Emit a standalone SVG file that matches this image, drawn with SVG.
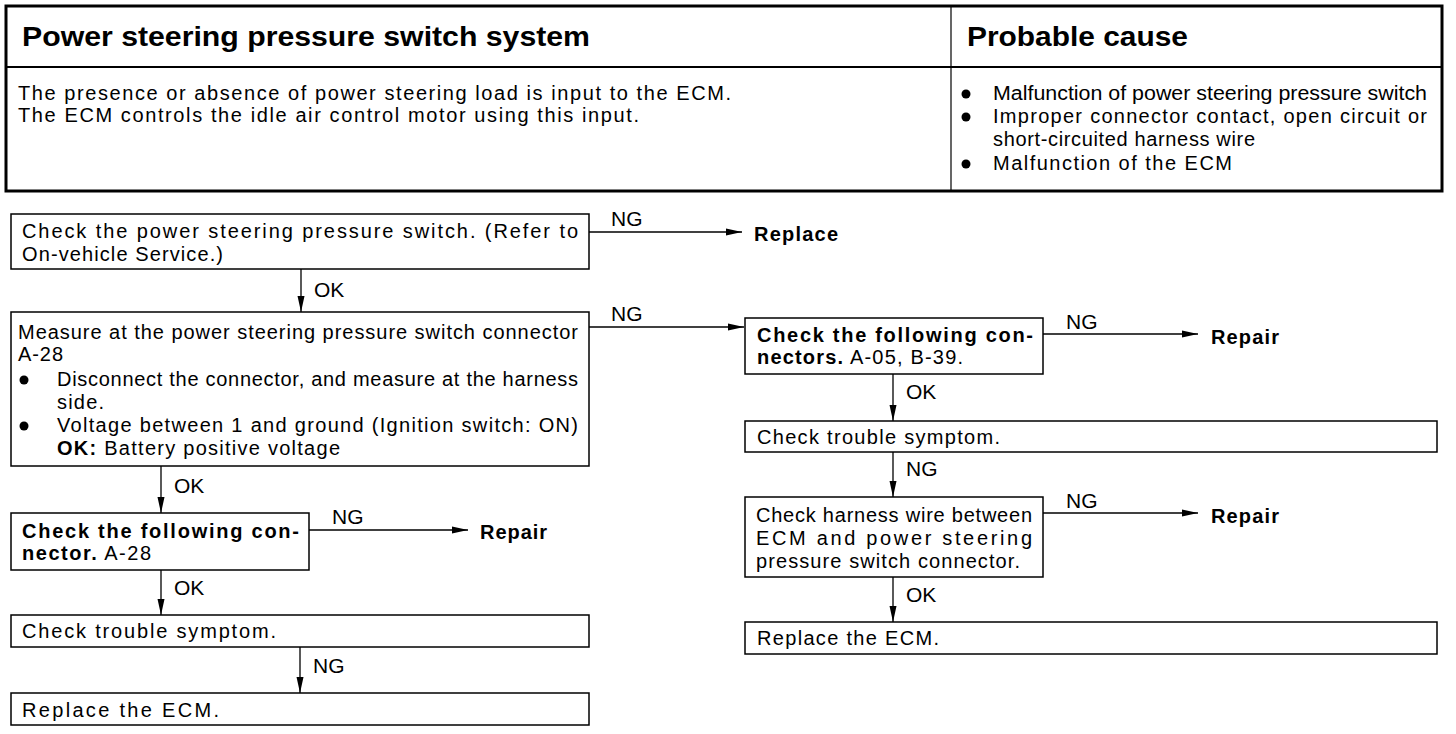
<svg xmlns="http://www.w3.org/2000/svg" width="1456" height="734" viewBox="0 0 1456 734">
<style>
text{font-family:"Liberation Sans",Arial,sans-serif;font-size:20px;fill:#000}
.b{font-weight:bold}
.h{font-weight:bold;font-size:28px}
.lbl{font-size:21px}
.box{fill:#fff;stroke:#000;stroke-width:1.5}
.conn line{stroke:#000;stroke-width:1.3;marker-end:url(#ah)}
</style>
<defs>
<marker id="ah" markerUnits="userSpaceOnUse" markerWidth="17" markerHeight="8" refX="16" refY="4" orient="auto">
<path d="M0,0.5 L16,4 L0,7.5 Z" fill="#000"/>
</marker>
</defs>
<rect width="1456" height="734" fill="#fff"/>
<g id="table">
<rect x="6" y="6" width="1436" height="185" fill="none" stroke="#000" stroke-width="3"/>
<line x1="6" y1="67" x2="1442" y2="67" stroke="#000" stroke-width="2"/>
<line x1="951" y1="6" x2="951" y2="191" stroke="#000" stroke-width="1.2"/>
<text class="h" x="22" y="46" textLength="568" lengthAdjust="spacingAndGlyphs">Power steering pressure switch system</text>
<text class="h" x="967" y="46" textLength="221" lengthAdjust="spacingAndGlyphs">Probable cause</text>
<text x="18" y="100" textLength="713" lengthAdjust="spacing">The presence or absence of power steering load is input to the ECM.</text>
<text x="18" y="122" textLength="621" lengthAdjust="spacing">The ECM controls the idle air control motor using this input.</text>
<circle cx="966" cy="94" r="4.5"/>
<circle cx="966" cy="117" r="4.5"/>
<circle cx="966" cy="164" r="4.5"/>
<text x="993" y="100" textLength="434" lengthAdjust="spacingAndGlyphs">Malfunction of power steering pressure switch</text>
<text x="993" y="123" textLength="434" lengthAdjust="spacing">Improper connector contact, open circuit or</text>
<text x="993" y="146" textLength="262" lengthAdjust="spacing">short-circuited harness wire</text>
<text x="993" y="170" textLength="239" lengthAdjust="spacing">Malfunction of the ECM</text>
</g>
<g id="n1">
<rect class="box" x="11" y="214" width="578" height="55"/>
<text x="22" y="238" textLength="556" lengthAdjust="spacing">Check the power steering pressure switch. (Refer to</text>
<text x="22" y="261" textLength="201" lengthAdjust="spacing">On-vehicle Service.)</text>
</g>
<g id="n_replace"><text class="b" x="754" y="241" textLength="84" lengthAdjust="spacing">Replace</text></g>
<g id="n2">
<rect class="box" x="11" y="312" width="578" height="154"/>
<text x="18" y="339" textLength="560" lengthAdjust="spacing">Measure at the power steering pressure switch connector</text>
<text x="18" y="361" textLength="45" lengthAdjust="spacing">A-28</text>
<circle cx="24" cy="380" r="4.5"/>
<text x="57" y="386" textLength="521" lengthAdjust="spacing">Disconnect the connector, and measure at the harness</text>
<text x="57" y="409" textLength="47" lengthAdjust="spacing">side.</text>
<circle cx="24" cy="426" r="4.5"/>
<text x="57" y="432" textLength="521" lengthAdjust="spacing">Voltage between 1 and ground (Ignition switch: ON)</text>
<text x="57" y="455" textLength="283" lengthAdjust="spacing"><tspan class="b">OK:</tspan> Battery positive voltage</text>
</g>
<g id="n3">
<rect class="box" x="11" y="513" width="298" height="57"/>
<text class="b" x="22" y="538" textLength="277" lengthAdjust="spacing">Check the following con-</text>
<text x="22" y="560" textLength="129" lengthAdjust="spacing"><tspan class="b">nector.</tspan> A-28</text>
</g>
<g id="n_repair1"><text class="b" x="480" y="539" textLength="67" lengthAdjust="spacing">Repair</text></g>
<g id="n4">
<rect class="box" x="11" y="615" width="578" height="32"/>
<text x="22" y="638" textLength="254" lengthAdjust="spacing">Check trouble symptom.</text>
</g>
<g id="n5">
<rect class="box" x="11" y="693" width="578" height="32"/>
<text x="22" y="717" textLength="197" lengthAdjust="spacing">Replace the ECM.</text>
</g>
<g id="n6">
<rect class="box" x="745" y="318" width="298" height="56"/>
<text class="b" x="757" y="342" textLength="276" lengthAdjust="spacing">Check the following con-</text>
<text x="757" y="364" textLength="206" lengthAdjust="spacing"><tspan class="b">nectors.</tspan> A-05, B-39.</text>
</g>
<g id="n_repair2"><text class="b" x="1211" y="344" textLength="68" lengthAdjust="spacing">Repair</text></g>
<g id="n7">
<rect class="box" x="745" y="421" width="692" height="31"/>
<text x="757" y="444" textLength="243" lengthAdjust="spacing">Check trouble symptom.</text>
</g>
<g id="n8">
<rect class="box" x="745" y="497" width="298" height="80"/>
<text x="756" y="522" textLength="276" lengthAdjust="spacing">Check harness wire between</text>
<text x="756" y="545" textLength="276" lengthAdjust="spacing">ECM and power steering</text>
<text x="756" y="568" textLength="264" lengthAdjust="spacing">pressure switch connector.</text>
</g>
<g id="n_repair3"><text class="b" x="1211" y="523" textLength="68" lengthAdjust="spacing">Repair</text></g>
<g id="n9">
<rect class="box" x="745" y="622" width="692" height="32"/>
<text x="757" y="645" textLength="182" lengthAdjust="spacing">Replace the ECM.</text>
</g>
<g id="connectors" class="conn">
<line x1="589" y1="232" x2="742" y2="232"/>
<text class="lbl" x="611" y="226">NG</text>
<line x1="301" y1="269" x2="301" y2="312"/>
<text class="lbl" x="314" y="297">OK</text>
<line x1="589" y1="327" x2="744" y2="327"/>
<text class="lbl" x="611" y="321">NG</text>
<line x1="161" y1="466" x2="161" y2="513"/>
<text class="lbl" x="174" y="493">OK</text>
<line x1="309" y1="530" x2="468" y2="530"/>
<text class="lbl" x="332" y="524">NG</text>
<line x1="161" y1="570" x2="161" y2="615"/>
<text class="lbl" x="174" y="595">OK</text>
<line x1="300" y1="647" x2="300" y2="693"/>
<text class="lbl" x="313" y="673">NG</text>
<line x1="1043" y1="334" x2="1198" y2="334"/>
<text class="lbl" x="1066" y="329">NG</text>
<line x1="893" y1="374" x2="893" y2="421"/>
<text class="lbl" x="906" y="399">OK</text>
<line x1="893" y1="452" x2="893" y2="497"/>
<text class="lbl" x="906" y="476">NG</text>
<line x1="1043" y1="513" x2="1198" y2="513"/>
<text class="lbl" x="1066" y="508">NG</text>
<line x1="893" y1="577" x2="893" y2="622"/>
<text class="lbl" x="906" y="602">OK</text>
</g>
</svg>
